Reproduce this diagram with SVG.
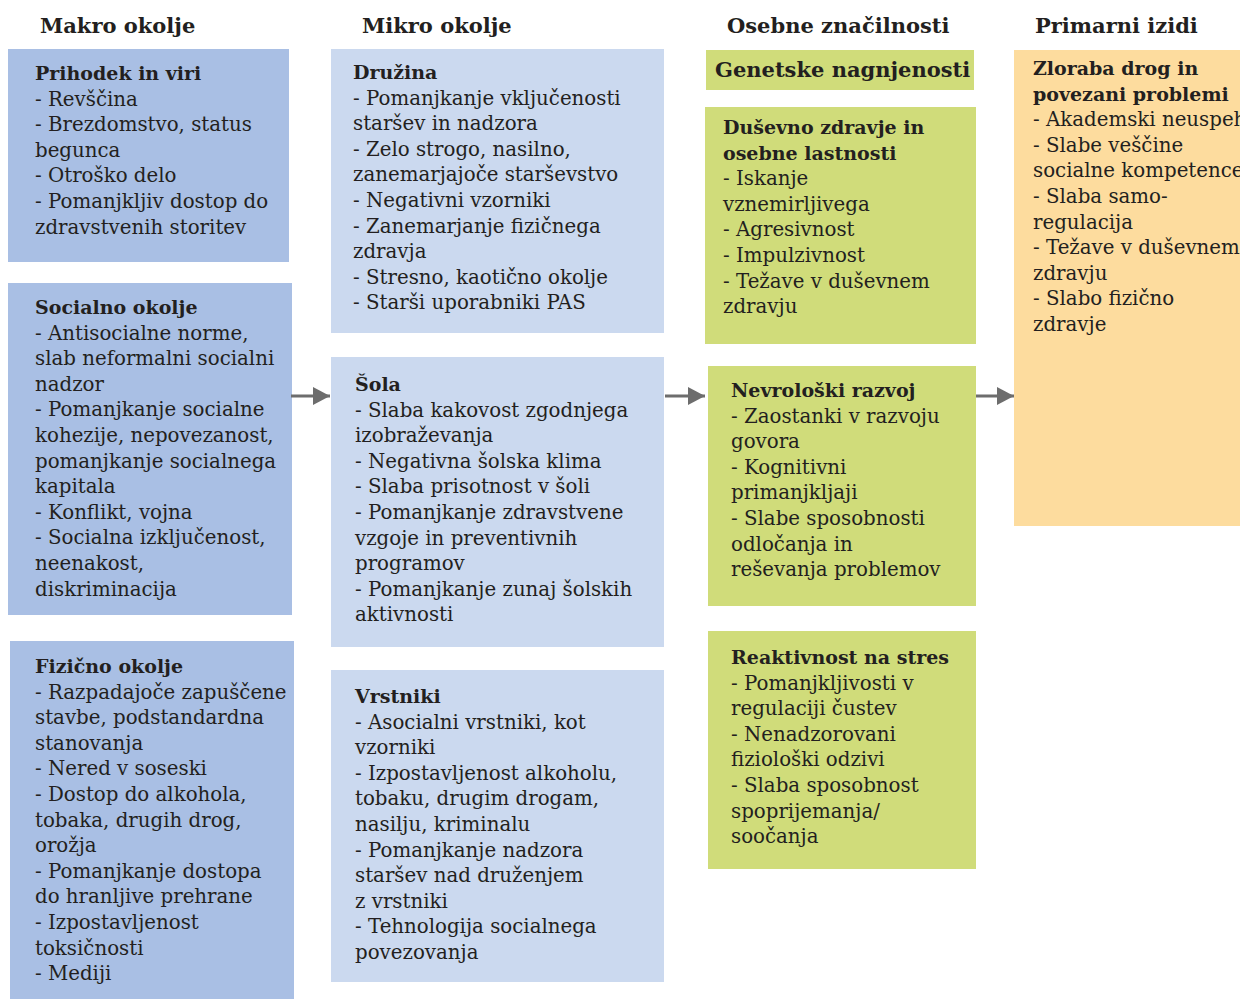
<svg xmlns="http://www.w3.org/2000/svg" width="1240" height="999" viewBox="0 0 1240 999">
  <style>
    text { font-family: "DejaVu Serif", "Liberation Serif", serif; fill: #231f20; font-size: 19.8px; }
    .h { font-size: 21px; font-weight: bold; }
    .t { font-size: 19px; font-weight: bold; }
    .g { font-size: 21px; font-weight: bold; }
    .makro { fill: #a9bfe4; }
    .mikro { fill: #cbd9ef; }
    .oseb { fill: #d0dc7a; }
    .izid { fill: #fddc9e; }
    .conn { stroke: #6d6d6d; stroke-width: 3; fill: none; }
  </style>
  <defs>
    <marker id="arrow" markerUnits="userSpaceOnUse" markerWidth="18" markerHeight="18" refX="17" refY="9" orient="auto">
      <polygon points="0,0 17,9 0,18" fill="#6d6d6d"/>
    </marker>
  </defs>

  <rect width="1240" height="999" fill="#ffffff"/>

  <!-- column headings -->
  <g id="headings">
    <text class="h" x="40" y="33">Makro okolje</text>
    <text class="h" x="362" y="33">Mikro okolje</text>
    <text class="h" x="727" y="33">Osebne značilnosti</text>
    <text class="h" x="1035" y="33">Primarni izidi</text>
  </g>

  <!-- macro environment -->
  <g id="prihodek">
    <rect class="makro" x="8" y="49" width="281" height="213"/>
    <text x="35" y="80">
      <tspan class="t" x="35" y="80">Prihodek in viri</tspan>
      <tspan x="35" dy="25.6">- Revščina</tspan>
      <tspan x="35" dy="25.6">- Brezdomstvo, status</tspan>
      <tspan x="35" dy="25.6">begunca</tspan>
      <tspan x="35" dy="25.6">- Otroško delo</tspan>
      <tspan x="35" dy="25.6">- Pomanjkljiv dostop do</tspan>
      <tspan x="35" dy="25.6">zdravstvenih storitev</tspan>
    </text>
  </g>

  <g id="socialno">
    <rect class="makro" x="8" y="283" width="284" height="332"/>
    <text x="35" y="314">
      <tspan class="t" x="35" y="314">Socialno okolje</tspan>
      <tspan x="35" dy="25.6">- Antisocialne norme,</tspan>
      <tspan x="35" dy="25.6">slab neformalni socialni</tspan>
      <tspan x="35" dy="25.6">nadzor</tspan>
      <tspan x="35" dy="25.6">- Pomanjkanje socialne</tspan>
      <tspan x="35" dy="25.6">kohezije, nepovezanost,</tspan>
      <tspan x="35" dy="25.6">pomanjkanje socialnega</tspan>
      <tspan x="35" dy="25.6">kapitala</tspan>
      <tspan x="35" dy="25.6">- Konflikt, vojna</tspan>
      <tspan x="35" dy="25.6">- Socialna izključenost,</tspan>
      <tspan x="35" dy="25.6">neenakost,</tspan>
      <tspan x="35" dy="25.6">diskriminacija</tspan>
    </text>
  </g>

  <g id="fizicno">
    <rect class="makro" x="10" y="641" width="284" height="358"/>
    <text x="35" y="673">
      <tspan class="t" x="35" y="673">Fizično okolje</tspan>
      <tspan x="35" dy="25.6">- Razpadajoče zapuščene</tspan>
      <tspan x="35" dy="25.6">stavbe, podstandardna</tspan>
      <tspan x="35" dy="25.6">stanovanja</tspan>
      <tspan x="35" dy="25.6">- Nered v soseski</tspan>
      <tspan x="35" dy="25.6">- Dostop do alkohola,</tspan>
      <tspan x="35" dy="25.6">tobaka, drugih drog,</tspan>
      <tspan x="35" dy="25.6">orožja</tspan>
      <tspan x="35" dy="25.6">- Pomanjkanje dostopa</tspan>
      <tspan x="35" dy="25.6">do hranljive prehrane</tspan>
      <tspan x="35" dy="25.6">- Izpostavljenost</tspan>
      <tspan x="35" dy="25.6">toksičnosti</tspan>
      <tspan x="35" dy="25.6">- Mediji</tspan>
    </text>
  </g>

  <!-- micro environment -->
  <g id="druzina">
    <rect class="mikro" x="331" y="49" width="333" height="284"/>
    <text x="353" y="79">
      <tspan class="t" x="353" y="79">Družina</tspan>
      <tspan x="353" dy="25.6">- Pomanjkanje vključenosti</tspan>
      <tspan x="353" dy="25.6">staršev in nadzora</tspan>
      <tspan x="353" dy="25.6">- Zelo strogo, nasilno,</tspan>
      <tspan x="353" dy="25.6">zanemarjajoče starševstvo</tspan>
      <tspan x="353" dy="25.6">- Negativni vzorniki</tspan>
      <tspan x="353" dy="25.6">- Zanemarjanje fizičnega</tspan>
      <tspan x="353" dy="25.6">zdravja</tspan>
      <tspan x="353" dy="25.6">- Stresno, kaotično okolje</tspan>
      <tspan x="353" dy="25.6">- Starši uporabniki PAS</tspan>
    </text>
  </g>

  <g id="sola">
    <rect class="mikro" x="331" y="357" width="333" height="290"/>
    <text x="355" y="391">
      <tspan class="t" x="355" y="391">Šola</tspan>
      <tspan x="355" dy="25.6">- Slaba kakovost zgodnjega</tspan>
      <tspan x="355" dy="25.6">izobraževanja</tspan>
      <tspan x="355" dy="25.6">- Negativna šolska klima</tspan>
      <tspan x="355" dy="25.6">- Slaba prisotnost v šoli</tspan>
      <tspan x="355" dy="25.6">- Pomanjkanje zdravstvene</tspan>
      <tspan x="355" dy="25.6">vzgoje in preventivnih</tspan>
      <tspan x="355" dy="25.6">programov</tspan>
      <tspan x="355" dy="25.6">- Pomanjkanje zunaj šolskih</tspan>
      <tspan x="355" dy="25.6">aktivnosti</tspan>
    </text>
  </g>

  <g id="vrstniki">
    <rect class="mikro" x="331" y="670" width="333" height="312"/>
    <text x="355" y="703">
      <tspan class="t" x="355" y="703">Vrstniki</tspan>
      <tspan x="355" dy="25.6">- Asocialni vrstniki, kot</tspan>
      <tspan x="355" dy="25.6">vzorniki</tspan>
      <tspan x="355" dy="25.6">- Izpostavljenost alkoholu,</tspan>
      <tspan x="355" dy="25.6">tobaku, drugim drogam,</tspan>
      <tspan x="355" dy="25.6">nasilju, kriminalu</tspan>
      <tspan x="355" dy="25.6">- Pomanjkanje nadzora</tspan>
      <tspan x="355" dy="25.6">staršev nad druženjem</tspan>
      <tspan x="355" dy="25.6">z vrstniki</tspan>
      <tspan x="355" dy="25.6">- Tehnologija socialnega</tspan>
      <tspan x="355" dy="25.6">povezovanja</tspan>
    </text>
  </g>

  <!-- personal characteristics -->
  <g id="genetske">
    <rect class="oseb" x="706" y="50" width="268" height="40"/>
    <text class="g" x="715" y="77">Genetske nagnjenosti</text>
  </g>

  <g id="dusevno">
    <rect class="oseb" x="705" y="107" width="271" height="237"/>
    <text x="723" y="134">
      <tspan class="t" x="723" y="134">Duševno zdravje in</tspan>
      <tspan class="t" x="723" dy="25.6">osebne lastnosti</tspan>
      <tspan x="723" dy="25.6">- Iskanje</tspan>
      <tspan x="723" dy="25.6">vznemirljivega</tspan>
      <tspan x="723" dy="25.6">- Agresivnost</tspan>
      <tspan x="723" dy="25.6">- Impulzivnost</tspan>
      <tspan x="723" dy="25.6">- Težave v duševnem</tspan>
      <tspan x="723" dy="25.6">zdravju</tspan>
    </text>
  </g>

  <g id="nevroloski">
    <rect class="oseb" x="708" y="366" width="268" height="240"/>
    <text x="731" y="397">
      <tspan class="t" x="731" y="397">Nevrološki razvoj</tspan>
      <tspan x="731" dy="25.6">- Zaostanki v razvoju</tspan>
      <tspan x="731" dy="25.6">govora</tspan>
      <tspan x="731" dy="25.6">- Kognitivni</tspan>
      <tspan x="731" dy="25.6">primanjkljaji</tspan>
      <tspan x="731" dy="25.6">- Slabe sposobnosti</tspan>
      <tspan x="731" dy="25.6">odločanja in</tspan>
      <tspan x="731" dy="25.6">reševanja problemov</tspan>
    </text>
  </g>

  <g id="stres">
    <rect class="oseb" x="708" y="631" width="268" height="238"/>
    <text x="731" y="664">
      <tspan class="t" x="731" y="664">Reaktivnost na stres</tspan>
      <tspan x="731" dy="25.6">- Pomanjkljivosti v</tspan>
      <tspan x="731" dy="25.6">regulaciji čustev</tspan>
      <tspan x="731" dy="25.6">- Nenadzorovani</tspan>
      <tspan x="731" dy="25.6">fiziološki odzivi</tspan>
      <tspan x="731" dy="25.6">- Slaba sposobnost</tspan>
      <tspan x="731" dy="25.6">spoprijemanja/</tspan>
      <tspan x="731" dy="25.6">soočanja</tspan>
    </text>
  </g>

  <!-- primary outcomes -->
  <g id="izidi">
    <rect class="izid" x="1014" y="50" width="226" height="476"/>
    <text x="1033" y="75">
      <tspan class="t" x="1033" y="75">Zloraba drog in</tspan>
      <tspan class="t" x="1033" dy="25.6">povezani problemi</tspan>
      <tspan x="1033" dy="25.6">- Akademski neuspeh</tspan>
      <tspan x="1033" dy="25.6">- Slabe veščine</tspan>
      <tspan x="1033" dy="25.6">socialne kompetence</tspan>
      <tspan x="1033" dy="25.6">- Slaba samo-</tspan>
      <tspan x="1033" dy="25.6">regulacija</tspan>
      <tspan x="1033" dy="25.6">- Težave v duševnem</tspan>
      <tspan x="1033" dy="25.6">zdravju</tspan>
      <tspan x="1033" dy="25.6">- Slabo fizično</tspan>
      <tspan x="1033" dy="25.6">zdravje</tspan>
    </text>
  </g>

  <!-- connectors between columns -->
  <g id="connectors">
    <line class="conn" x1="291" y1="396" x2="330" y2="396" marker-end="url(#arrow)"/>
    <line class="conn" x1="665" y1="396" x2="705" y2="396" marker-end="url(#arrow)"/>
    <line class="conn" x1="976" y1="396" x2="1014" y2="396" marker-end="url(#arrow)"/>
  </g>
</svg>
